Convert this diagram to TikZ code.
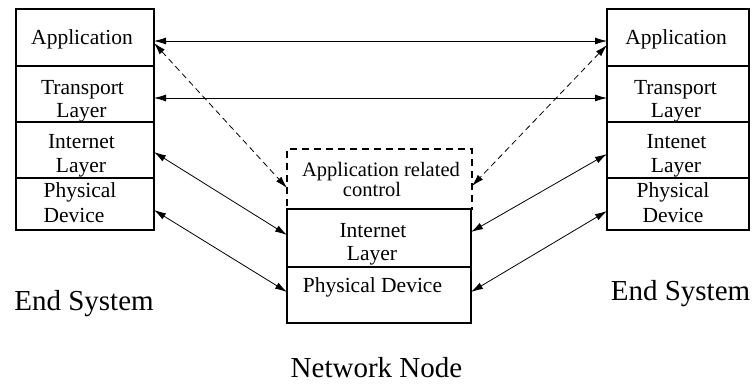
\documentclass[tikz,border=0pt]{standalone}
\usepackage{fontspec}
\setmainfont{Liberation Serif}
\usetikzlibrary{arrows.meta}
\tikzset{
  cell/.style={draw, line width=1.3pt, inner sep=0pt, outer sep=0pt},
  dcell/.style={draw, line width=1.3pt, inner sep=0pt, outer sep=0pt, dash pattern=on 7pt off 5pt},
  txt/.style={anchor=base, inner sep=0pt, font=\fontsize{21.5}{24}\selectfont},
  stxt/.style={anchor=base, inner sep=0pt, font=\fontsize{20.5}{22}\selectfont},
  big/.style={anchor=base, inner sep=0pt, font=\fontsize{29}{32}\selectfont},
  arr/.style={{Latex[length=12pt,width=7pt]}-{Latex[length=12pt,width=7pt]}, line width=0.8pt},
  darr/.style={arr, dash pattern=on 6pt off 4pt}
}
\begin{document}
\begin{tikzpicture}[x=1pt,y=-1pt]
\useasboundingbox (0,0) rectangle (755,383);
% left stack
\node[cell, minimum width=138pt, minimum height=57pt] (lapp) at (85,37.5) {};
\node[cell, minimum width=138pt, minimum height=56pt] (ltra) at (85,94) {};
\node[cell, minimum width=138pt, minimum height=56pt] (lint) at (85,150) {};
\node[cell, minimum width=138pt, minimum height=52pt] (lphy) at (85,204) {};
% right stack
\node[cell, minimum width=142pt, minimum height=57pt] (rapp) at (678,37.5) {};
\node[cell, minimum width=142pt, minimum height=56pt] (rtra) at (678,94) {};
\node[cell, minimum width=142pt, minimum height=56pt] (rint) at (678,150) {};
\node[cell, minimum width=142pt, minimum height=52pt] (rphy) at (678,204) {};
% middle
\node[dcell, minimum width=185pt, minimum height=60pt] (mctl) at (379.5,179) {};
\node[cell, fill=white, minimum width=184pt, minimum height=58pt] (mint) at (379,238) {};
\node[cell, minimum width=184pt, minimum height=56pt] (mphy) at (379,295) {};
% texts left
\node[txt] (t1) at (82,44) {Application};
\node[txt] (t2) at (82.5,94) {Transport};
\node[txt] (t3) at (81.5,117) {Layer};
\node[txt] (t4) at (81.5,148) {Internet};
\node[txt] (t5) at (81,172) {Layer};
\node[txt] (t6) at (80,197) {Physical};
\node[txt] (t7) at (74,222) {Device};
% texts right
\node[txt] (u1) at (676,44) {Application};
\node[txt] (u2) at (675.5,94) {Transport};
\node[txt] (u3) at (676,117) {Layer};
\node[txt] (u4) at (676.5,148) {Intenet};
\node[txt] (u5) at (676,172) {Layer};
\node[txt] (u6) at (673,197) {Physical};
\node[txt] (u7) at (673,222) {Device};
% texts middle
\node[stxt] (m1) at (381,176) {Application related};
\node[stxt] (m2) at (372,196) {control};
\node[txt] (m3) at (373,237) {Internet};
\node[txt] (m4) at (372,260) {Layer};
\node[txt] (m5) at (372.5,292) {Physical Device};
% captions
\node[big] (c1) at (84,310) {End System};
\node[big] (c2) at (680.5,300) {End System};
\node[big] (c3) at (376.5,377) {Network Node};
% arrows
\draw[arr] ([yshift=-3.5pt]lapp.east) -- ([yshift=-3.5pt]rapp.west);
\draw[arr] ([yshift=-4pt]ltra.east) -- ([yshift=-4pt]rtra.west);
\draw[darr] ([yshift=-5.5pt]lapp.east) -- ([yshift=-9pt]mctl.west);
\draw[darr] ([yshift=-7.5pt]rapp.west) -- ([yshift=-7pt]mctl.east);
\draw[arr] ([yshift=-2pt]lint.east) -- ([yshift=3pt]mint.west);
\draw[arr] ([yshift=-6pt]lphy.east) -- ([yshift=3pt]mphy.west);
\draw[arr] ([yshift=6pt]mint.east) -- ([yshift=-4pt]rint.west);
\draw[arr] ([yshift=3pt]mphy.east) -- ([yshift=-7pt]rphy.west);
\end{tikzpicture}
\end{document}
